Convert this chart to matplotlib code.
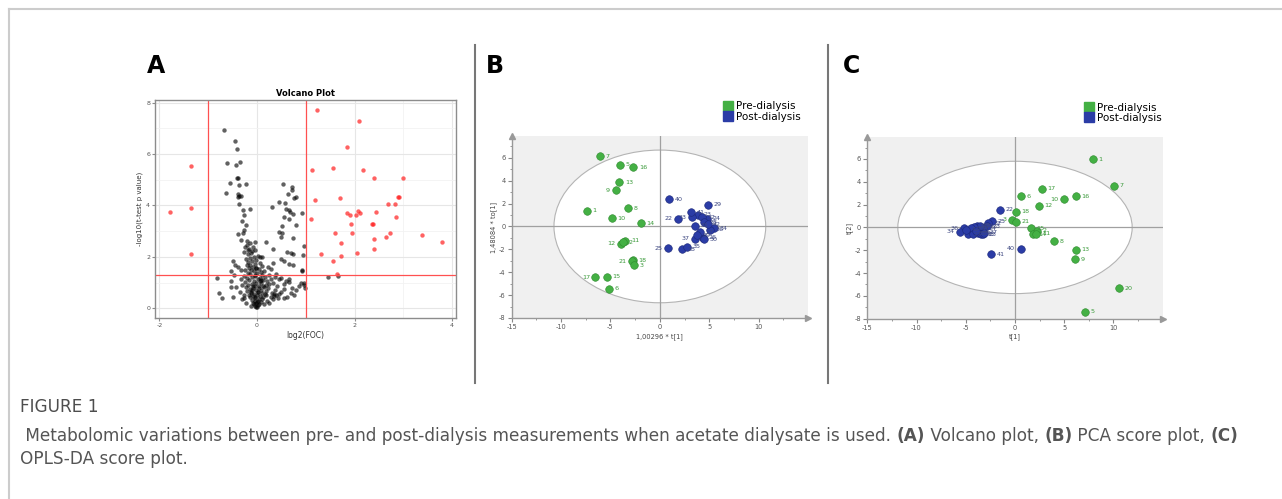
import matplotlib.pyplot as plt
from matplotlib.patches import Ellipse
from matplotlib.lines import Line2D

plt.rcParams["axes.unicode_minus"] = False

# ---------------- volcano data ----------------
black_x = [-0.68, -0.44, -0.41, -0.61, -0.42, -0.35, -0.41, -0.38, -0.56, -0.23,
           -0.36, -0.64, -0.39, -0.36, -0.33, -0.38, -0.36, -0.29, -0.14, -0.27,
           -0.31, -0.22, -0.26, -0.29, -0.38, -0.33, -0.20, -0.15, -0.04, 0.19,
           -0.24, -0.19, -0.11, 0.07, 0.11,
           0.54, 0.72, 0.72, 0.63, 0.81, 0.75, 0.31, 0.46, 0.57, 0.59,
           0.65, 0.68, 0.74, 0.92, 0.55, 0.65, 0.51, 0.80, 0.46, 0.51,
           0.50, 0.73, 0.97, 0.32, 0.61, 0.69, 0.74, 0.95, 0.49, 0.56,
           0.33, 0.29, 0.65, 0.74, 0.93, 0.93, 0.23, 0.39, 0.50, 0.45,
           0.66, 0.66, 0.86, 0.91, 0.97, 0.99, 0.96, 0.72, 0.56, 0.55,
           0.44, 0.35, 1.46, 1.66,
           -0.49, -0.45, -0.39, -0.33, -0.53, -0.48, -0.54, -0.53, -0.42, -0.82,
           -0.77, -0.71, -0.49, -0.27, -0.26, -0.22,
           -0.02, 0.01, -0.04, 0.03, -0.06, 0.05, -0.01, -0.08, 0.08, 0.02,
           -0.05, -0.11, 0.10, 0.04, -0.03, -0.14, 0.13, 0.07, -0.09, 0.00,
           -0.17, 0.16, -0.06, 0.11, 0.03, -0.12, -0.20, 0.19, -0.02, 0.08,
           -0.15, 0.22, -0.08, 0.14, -0.23, 0.04, -0.04, 0.18, -0.18, 0.25,
           -0.11, 0.09, -0.01, -0.25, 0.21, -0.07, 0.13, -0.16, 0.28, 0.02,
           -0.21, 0.06, -0.10, 0.17, -0.03, -0.27, 0.24, 0.11, -0.14, 0.01,
           -0.19, 0.08, -0.06, 0.15, -0.24, -0.12, 0.04, -0.17, -0.02, -0.09,
           0.10, -0.21, -0.14, -0.05, 0.06, -0.18, -0.10, -0.01, -0.23, -0.15,
           -0.07, 0.03, -0.19, -0.12, -0.26, -0.04, -0.16, -0.09, -0.21,
           0.30, 0.35, 0.40, 0.45, 0.50, 0.38, 0.28, 0.33, 0.20, 0.25,
           -0.30, -0.35, -0.30, -0.33, 0.32, 0.36, 0.42, 0.55, 0.60, 0.70,
           0.62, 0.75, 0.80, 0.15, -0.12, 0.18, -0.13, 0.12,
           -0.05, 0.02, -0.08, 0.06, -0.03, 0.00, -0.10, 0.09, -0.01, 0.04]
black_y = [6.94, 6.51, 6.20, 5.64, 5.58, 5.67, 5.06, 5.06, 4.89, 4.84,
           4.80, 4.47, 4.45, 4.38, 4.38, 4.32, 4.05, 3.81, 3.87, 3.62,
           3.41, 3.23, 3.06, 2.93, 2.88, 2.66, 2.61, 2.53, 2.56, 2.56,
           2.40, 2.27, 2.23, 2.01, 1.98,
           4.82, 4.71, 4.58, 4.45, 4.32, 4.27, 3.93, 4.15, 4.11, 3.87,
           3.84, 3.76, 3.68, 3.71, 3.53, 3.46, 3.18, 3.22, 2.96, 2.92,
           2.76, 2.75, 2.41, 2.31, 2.20, 2.13, 2.11, 2.06, 1.93, 1.83,
           1.75, 1.52, 1.73, 1.67, 1.47, 1.43, 1.60, 1.34, 1.19, 1.13,
           1.15, 1.01, 0.88, 1.00, 0.92, 0.79, 0.97, 0.77, 0.73, 0.40,
           0.40, 0.48, 1.21, 1.27,
           1.83, 1.69, 1.60, 1.49, 1.43, 1.30, 1.05, 0.84, 0.82, 1.17,
           0.61, 0.40, 0.44, 0.40, 0.51, 0.22,
           0.03, 0.06, 0.10, 0.12, 0.15, 0.18, 0.20, 0.22, 0.24, 0.27,
           0.30, 0.32, 0.34, 0.36, 0.39, 0.42, 0.44, 0.46, 0.48, 0.50,
           0.53, 0.55, 0.57, 0.60, 0.62, 0.64, 0.66, 0.68, 0.70, 0.72,
           0.75, 0.77, 0.79, 0.81, 0.83, 0.85, 0.88, 0.90, 0.92, 0.94,
           0.96, 0.98, 1.00, 1.02, 1.04, 1.06, 1.08, 1.10, 1.12, 1.14,
           1.16, 1.18, 1.20, 1.22, 1.25, 1.27, 1.29, 1.31, 1.33, 1.36,
           1.38, 1.40, 1.43, 1.45, 1.47, 1.50, 1.52, 1.55, 1.58, 1.61,
           1.64, 1.67, 1.70, 1.73, 1.76, 1.80, 1.84, 1.88, 1.92, 1.96,
           2.00, 2.05, 2.10, 2.15, 2.20, 2.25, 2.32, 2.38, 2.45,
           0.60, 0.55, 0.50, 0.55, 0.62, 0.70, 0.42, 0.35, 0.30, 0.20,
           0.35, 0.62, 0.90, 1.15, 1.00, 1.20, 0.85, 0.95, 1.05, 0.60,
           0.45, 0.52, 0.70, 0.15, 0.10, 0.50, 0.58, 0.88,
           0.45, 0.65, 0.85, 1.05, 1.30, 0.25, 0.70, 1.10, 1.55, 0.80]

red_x = [-1.78, -1.36, -1.35, -1.36, 1.24, 2.09, 1.85, 1.13, 1.56, 2.18,
         2.39, 3.00, 1.18, 1.70, 2.89, 2.91, 2.68, 2.82, 1.85, 1.90,
         2.07, 2.12, 2.03, 2.45, 1.11, 1.93, 2.37, 2.35, 2.84, 1.59,
         1.95, 2.73, 2.65, 3.38, 3.80, 2.39, 1.73, 1.31, 2.05, 2.39,
         1.73, 1.56, 1.64]
red_y = [3.75, 5.55, 3.88, 2.10, 7.72, 7.30, 6.29, 5.37, 5.47, 5.37,
         5.08, 5.06, 4.20, 4.28, 4.33, 4.31, 4.07, 4.05, 3.70, 3.64,
         3.77, 3.70, 3.61, 3.76, 3.46, 3.28, 3.27, 3.26, 3.54, 2.93,
         2.93, 2.93, 2.78, 2.83, 2.56, 2.70, 2.53, 2.10, 2.13, 2.30,
         2.04, 1.85, 1.32]

# ---------------- PCA score plot (B) ----------------
pca_pre_ids = [7, 5, 16, 13, 9, 1, 8, 10, 14, 11, 12, 2, 18, 21, 3, 17, 15, 6]
pca_pre_x = [-6.08, -4.00, -2.69, -4.10, -4.47, -7.39, -3.26, -4.87, -1.95, -3.49,
             -3.90, -3.70, -2.75, -2.80, -2.62, -6.52, -5.34, -5.11]
pca_pre_y = [6.13, 5.40, 5.16, 3.84, 3.17, 1.38, 1.58, 0.73, 0.26, -1.26,
             -1.52, -1.40, -2.95, -3.05, -3.40, -4.46, -4.40, -5.43]
pca_post_ids = [22, 23, 24, 25, 26, 27, 28, 29, 30, 31, 32,
                33, 34, 35, 36, 37, 38, 39, 40, 41, 42]
pca_post_x = [1.88, 3.90, 4.74, 0.81, 4.37, 4.03, 2.22, 4.87, 4.50, 3.60, 4.30,
              3.29, 5.51, 2.72, 5.07, 3.53, 4.44, 3.76, 0.94, 3.16, 4.84]
pca_post_y = [0.65, 1.03, 0.65, -1.91, -0.97, -0.50, -1.99, 1.91, -1.10, 0.06, 0.79,
              0.79, -0.15, -1.76, -0.29, -1.06, 0.35, -0.76, 2.38, 1.23, 0.21]

# ---------------- OPLS-DA score plot (C) ----------------
opls_pre_ids = [1, 7, 17, 16, 6, 10, 12, 18, 3, 21, 15, 2, 14, 11, 8, 13, 9, 20, 5]
opls_pre_x = [7.93, 10.03, 2.71, 6.20, 0.61, 4.98, 2.44, 0.07, -0.34, 0.07,
              1.59, 2.20, 1.80, 2.17, 4.00, 6.17, 6.10, 10.58, 7.08]
opls_pre_y = [5.98, 3.64, 3.37, 2.75, 2.75, 2.46, 1.89, 1.36, 0.68, 0.50,
              -0.06, -0.30, -0.59, -0.56, -1.21, -1.95, -2.81, -5.33, -7.37]
opls_post_ids = [22, 41, 40, 25, 32, 33, 24, 28, 29, 26, 30,
                 36, 34, 27, 38, 39, 35, 23, 37, 31, 42]
opls_post_x = [-1.56, -2.44, 0.58, -2.34, -2.70, -2.81, -3.22, -3.83, -3.60, -4.17, -4.51,
               -5.19, -5.59, -4.78, -4.30, -3.76, -3.50, -3.29, -3.10, -4.00, -5.00]
opls_post_y = [1.54, -2.37, -1.89, 0.56, 0.35, 0.09, -0.09, 0.15, 0.10, 0.05, -0.09,
               -0.06, -0.36, -0.59, -0.55, -0.50, -0.60, -0.59, -0.45, -0.30, -0.20]

caption_title = "FIGURE 1"
caption_1 = [(" Metabolomic variations between pre- and post-dialysis measurements when acetate dialysate is used. ", False),
             ("(A)", True), (" Volcano plot, ", False), ("(B)", True), (" PCA score plot, ", False), ("(C)", True)]
caption_2 = [("OPLS-DA score plot.", False)]

W, H = 1282, 499
fig = plt.figure(figsize=(W / 100, H / 100), dpi=100)


def px_axes(l, t, r, b):
    return fig.add_axes([l / W, 1 - b / H, (r - l) / W, (b - t) / H])


# ---------------- panel A ----------------
ax = px_axes(155, 100, 456, 318)
ax.set_xlim(-2.09, 4.08)
ax.set_ylim(-0.38, 8.1)
ax.set_xticks([-2, 0, 2, 4])
ax.set_yticks([0, 2, 4, 6, 8])
ax.set_xticks([-1, 1, 3], minor=True)
ax.set_yticks([1, 3, 5, 7], minor=True)
ax.grid(True, which="major", color="#e6e6e6", lw=0.8)
ax.grid(True, which="minor", color="#f2f2f2", lw=0.6)
ax.set_axisbelow(True)
for s in ax.spines.values():
    s.set_color("#8c8c8c")
    s.set_linewidth(1)
ax.tick_params(which="major", length=2, color="#8c8c8c", labelsize=4.5, labelcolor="#555555", pad=1.5)
ax.tick_params(which="minor", length=0)
ax.axvline(-1, color="#ff5050", lw=0.9)
ax.axvline(1, color="#ff5050", lw=0.9)
ax.axhline(1.3, color="#ff5050", lw=0.9)
ax.scatter(black_x, black_y, s=10, color="black", alpha=0.62, linewidths=0)
ax.scatter(red_x, red_y, s=10, color="#ff2020", alpha=0.7, linewidths=0)
ax.set_title("Volcano Plot", fontsize=6, fontweight="bold", pad=3)
ax.set_xlabel("log2(FOC)", fontsize=5.5, color="#333333", labelpad=2)
ax.set_ylabel("-log10(t-test p value)", fontsize=5, color="#333333", labelpad=2)


# ---------------- panels B and C ----------------
GREEN = "#44b044"
BLUE = "#2b3ca6"


def score_panel(ax, pre_x, pre_y, pre_ids, post_x, post_y, post_ids,
                ell_w, ell_h, xlabel, ylabel, left_ids, legend_x):
    ax.set_facecolor("#f0f0f0")
    ax.set_xlim(-15, 15)
    ax.set_ylim(-8, 7.9)
    ax.add_patch(Ellipse((0, 0), 2 * ell_w, 2 * ell_h, facecolor="white",
                         edgecolor="#b4b4b4", lw=0.8, zorder=1))
    ax.axhline(0, color="#a0a0a0", lw=0.9, zorder=2)
    ax.axvline(0, color="#a0a0a0", lw=0.9, zorder=2)
    ax.set_xticks([-15, -10, -5, 0, 5, 10])
    ax.set_yticks([-8, -6, -4, -2, 0, 2, 4, 6])
    ax.set_xticks([-12.5, -7.5, -2.5, 2.5, 7.5, 12.5], minor=True)
    ax.set_yticks([-7, -5, -3, -1, 1, 3, 5, 7], minor=True)
    ax.tick_params(which="major", length=3, color="#888888", labelsize=4.8,
                   labelcolor="#555555", pad=1.5)
    ax.tick_params(which="minor", length=1.5, color="#888888")
    for side in ("top", "right"):
        ax.spines[side].set_visible(False)
    for side in ("left", "bottom"):
        ax.spines[side].set_color("#999999")
        ax.spines[side].set_linewidth(1)
    ax.plot(1, 0, ">", transform=ax.transAxes, clip_on=False, color="#999999", ms=4)
    ax.plot(0, 1, "^", transform=ax.transAxes, clip_on=False, color="#999999", ms=4)

    ax.scatter(pre_x, pre_y, s=30, color=GREEN, edgecolors="#2f8a2f", linewidths=0.4, zorder=4)
    ax.scatter(post_x, post_y, s=30, color=BLUE, edgecolors="#1c2878", linewidths=0.4, zorder=4)
    for xs, ys, ids, c in ((pre_x, pre_y, pre_ids, "#3a9a3a"), (post_x, post_y, post_ids, "#3c4680")):
        for x, y, i in zip(xs, ys, ids):
            if i in left_ids:
                ax.annotate(str(i), (x, y), xytext=(-4, 0), textcoords="offset points",
                            fontsize=4.6, color=c, ha="right", va="center", zorder=5)
            else:
                ax.annotate(str(i), (x, y), xytext=(4, 0), textcoords="offset points",
                            fontsize=4.6, color=c, ha="left", va="center", zorder=5)
    ax.set_xlabel(xlabel, fontsize=4.8, color="#444444", labelpad=2)
    ax.set_ylabel(ylabel, fontsize=4.8, color="#444444", labelpad=1)

    handles = [Line2D([], [], marker="s", ls="", color=GREEN, ms=7),
               Line2D([], [], marker="s", ls="", color=BLUE, ms=7)]
    ax.legend(handles, ["Pre-dialysis", "Post-dialysis"], loc="upper left",
              bbox_to_anchor=(legend_x, 1.22), frameon=False, fontsize=7.5,
              handlelength=0.8, handletextpad=0.3, labelspacing=0.05, borderpad=0)


axb = px_axes(511.7, 136, 808, 318)
score_panel(axb, pca_pre_x, pca_pre_y, pca_pre_ids, pca_post_x, pca_post_y, pca_post_ids,
            10.72, 6.67, "1,00296 * t[1]", "1,48084 * to[1]",
            {17, 12, 21, 9, 22, 25, 33, 37}, 0.70)

axc = px_axes(867.3, 137.3, 1162.7, 318.7)
score_panel(axc, opls_pre_x, opls_pre_y, opls_pre_ids, opls_post_x, opls_post_y, opls_post_ids,
            11.9, 5.8, "t[1]", "t[2]",
            {10, 3, 40, 36, 34}, 0.72)

# ---------------- frame, separators, letters ----------------
fig.add_artist(Line2D([9 / W, 1], [1 - 9 / H, 1 - 9 / H], transform=fig.transFigure, color="#cccccc", lw=1.5))
fig.add_artist(Line2D([9 / W, 9 / W], [0, 1 - 9 / H], transform=fig.transFigure, color="#cccccc", lw=1.5))
for xs in (475, 828):
    fig.add_artist(Line2D([xs / W, xs / W], [1 - 45 / H, 1 - 383 / H], transform=fig.transFigure,
                          color="#777777", lw=1.5))
for letter, xl in (("A", 147), ("B", 486), ("C", 843)):
    fig.text(xl / W, 1 - 66 / H, letter, fontsize=17, fontweight="bold", va="center", ha="left")

# ---------------- caption ----------------
CAP_FONT = "DejaVu Sans"
renderer = fig.canvas.get_renderer()


def caption_line(pieces, x0, y0, size, color="#555555", weight="normal"):
    x = x0
    for txt, bold in pieces:
        t = fig.text(x / W, 1 - y0 / H, txt, fontsize=size, color=color, va="center",
                     family=CAP_FONT, fontweight="bold" if bold else weight)
        x += t.get_window_extent(renderer).width
    return x


# size the first caption line so that it spans the same width as in the figure
probe = fig.text(0, 0, "".join(p[0] for p in caption_1), fontsize=10, family=CAP_FONT)
cap_size = 10 * 1212 / probe.get_window_extent(renderer).width
probe.remove()
caption_line([(caption_title, False)], 20, 407, cap_size, "#4d4d4d")
caption_line(caption_1, 20, 436, cap_size)
caption_line(caption_2, 20, 459, cap_size)

fig.savefig("out.png", dpi=100)
